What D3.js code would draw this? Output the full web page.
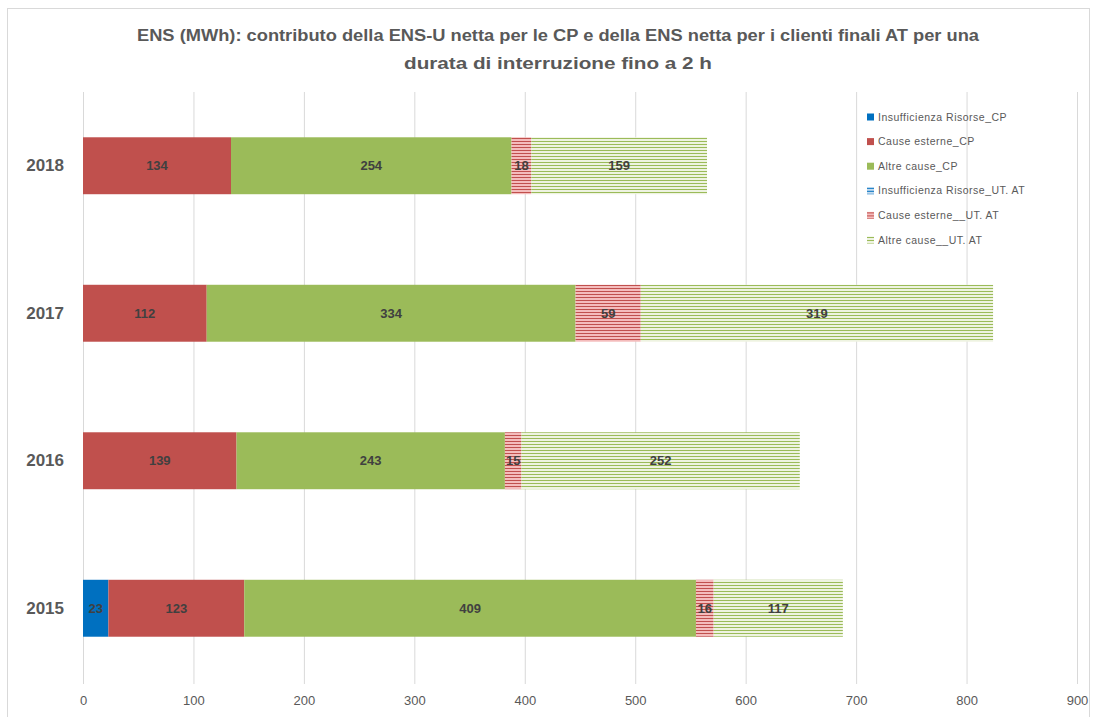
<!DOCTYPE html>
<html>
<head>
<meta charset="utf-8">
<script src="https://cdn.jsdelivr.net/npm/d3@7"></script>
<style>
  body { margin: 0; background: #fff; }
  svg { font-family: "Liberation Sans", Arial, sans-serif; }
</style>
</head>
<body>
<div id="chart"></div>
<script>
// Data
const years = ['2018', '2017', '2016', '2015'];
const seriesNames = [
    'Insufficienza Risorse_CP',
    'Cause esterne_CP',
    'Altre cause_CP',
    'Insufficienza Risorse_UT. AT',
    'Cause esterne__UT. AT',
    'Altre cause__UT. AT'
];
const insuffCP   = [0, 0, 0, 23];
const esterneCP  = [134, 112, 139, 123];
const altreCP    = [254, 334, 243, 409];
const insuffUT   = [0, 0, 0, 0];
const esterneUT  = [18, 59, 15, 16];
const altreUT    = [159, 319, 252, 117];
const xTicks = [0, 100, 200, 300, 400, 500, 600, 700, 800, 900];
const titleLines = [
    'ENS (MWh): contributo della ENS-U netta per le CP e della ENS netta per i clienti finali AT per una',
    'durata di interruzione fino a 2 h'
];

const seriesValues = [insuffCP, esterneCP, altreCP, insuffUT, esterneUT, altreUT];

const width = 1094, height = 717;
const margin = {top: 92, right: 17, bottom: 34, left: 83};

const svg = d3.select('#chart')
    .append('svg')
    .attr('width', width)
    .attr('height', height);

// Patterns for the hatched series
const defs = svg.append('defs');
const patterns = [
    {id: 'hatchBlue', bg: '#c6dcef', line: '#0070c0'},
    {id: 'hatchRed', bg: '#f4bcbc', line: '#c0504d'},
    {id: 'hatchGreen', bg: '#eef3e1', line: '#9bbb59'}
];
patterns.forEach(p => {
    const pat = defs.append('pattern')
        .attr('id', p.id)
        .attr('patternUnits', 'userSpaceOnUse')
        .attr('width', 8)
        .attr('height', 3);
    pat.append('rect').attr('width', 8).attr('height', 3).attr('fill', p.bg);
    pat.append('rect').attr('y', 0).attr('width', 8).attr('height', 1).attr('fill', p.line);
});

const fills = ['#0070c0', '#c0504d', '#9bbb59', 'url(#hatchBlue)', 'url(#hatchRed)', 'url(#hatchGreen)'];

// Chart border
svg.append('rect')
    .attr('x', 7.5).attr('y', 8.5)
    .attr('width', width - 12).attr('height', height - 8)
    .attr('fill', 'none')
    .attr('stroke', '#d9d9d9');

// Title
svg.append('text')
    .attr('text-anchor', 'middle')
    .attr('font-size', 16)
    .attr('font-weight', 'bold')
    .attr('fill', '#595959')
    .selectAll('tspan')
    .data(titleLines)
    .join('tspan')
    .attr('x', 558)
    .attr('y', (d, i) => 41 + i * 28)
    .attr('textLength', (d, i) => i === 0 ? 842 : 308)
    .attr('lengthAdjust', 'spacingAndGlyphs')
    .text(d => d);

// Scales
const x = d3.scaleLinear()
    .domain([0, 900])
    .range([margin.left, width - margin.right]);

const y = d3.scaleBand()
    .domain(years)
    .range([92, 682])
    .paddingInner(0.614)
    .paddingOuter(0.307);

// Gridlines
svg.append('g')
    .selectAll('line')
    .data(xTicks)
    .join('line')
    .attr('x1', d => x(d) + 0.5)
    .attr('x2', d => x(d) + 0.5)
    .attr('y1', 92)
    .attr('y2', 684)
    .attr('stroke', '#d9d9d9');

// X axis
const xAxis = svg.append('g')
    .attr('transform', `translate(0, ${height - 21})`)
    .call(d3.axisBottom(x).tickValues(xTicks).tickSize(0).tickPadding(0));
xAxis.select('.domain').remove();
xAxis.selectAll('text')
    .attr('font-size', 13)
    .attr('fill', '#595959')
    .attr('font-family', '"Liberation Sans", Arial, sans-serif');

// Y axis
const yAxis = svg.append('g')
    .attr('transform', `translate(${margin.left - 19}, 0)`)
    .call(d3.axisLeft(y).tickSize(0).tickPadding(0));
yAxis.select('.domain').remove();
yAxis.selectAll('text')
    .attr('font-size', 17)
    .attr('font-weight', 'bold')
    .attr('fill', '#595959')
    .attr('font-family', '"Liberation Sans", Arial, sans-serif');

// Stack
const table = years.map((yr, i) => {
    const row = {year: yr};
    seriesNames.forEach((s, j) => { row[s] = seriesValues[j][i]; });
    return row;
});
const stacked = d3.stack().keys(seriesNames)(table);

const layers = svg.append('g')
    .selectAll('g')
    .data(stacked)
    .join('g')
    .attr('fill', (d, i) => fills[i]);

layers.selectAll('rect')
    .data(d => d)
    .join('rect')
    .attr('x', d => x(d[0]))
    .attr('y', d => y(d.data.year))
    .attr('width', d => x(d[1]) - x(d[0]))
    .attr('height', y.bandwidth());

// Value labels
layers.selectAll('text')
    .data(d => d.filter(v => v[1] - v[0] > 0))
    .join('text')
    .attr('x', d => (x(d[0]) + x(d[1])) / 2)
    .attr('y', d => y(d.data.year) + y.bandwidth() / 2)
    .attr('dy', '0.35em')
    .attr('text-anchor', 'middle')
    .attr('font-size', 13)
    .attr('font-weight', 'bold')
    .attr('fill', '#404040')
    .text(d => d[1] - d[0]);

// Legend
const legend = svg.append('g')
    .attr('transform', 'translate(867, 117)');
const item = legend.selectAll('g')
    .data(seriesNames)
    .join('g')
    .attr('transform', (d, i) => `translate(0, ${i * 24.6})`);
item.append('rect')
    .attr('x', 0).attr('y', -3.5)
    .attr('width', 7).attr('height', 7)
    .attr('fill', (d, i) => fills[i]);
item.append('text')
    .attr('x', 11)
    .attr('dy', '0.35em')
    .attr('font-size', 10.5)
    .attr('letter-spacing', 0.5)
    .attr('fill', '#595959')
    .text(d => d);
</script>
</body>
</html>
